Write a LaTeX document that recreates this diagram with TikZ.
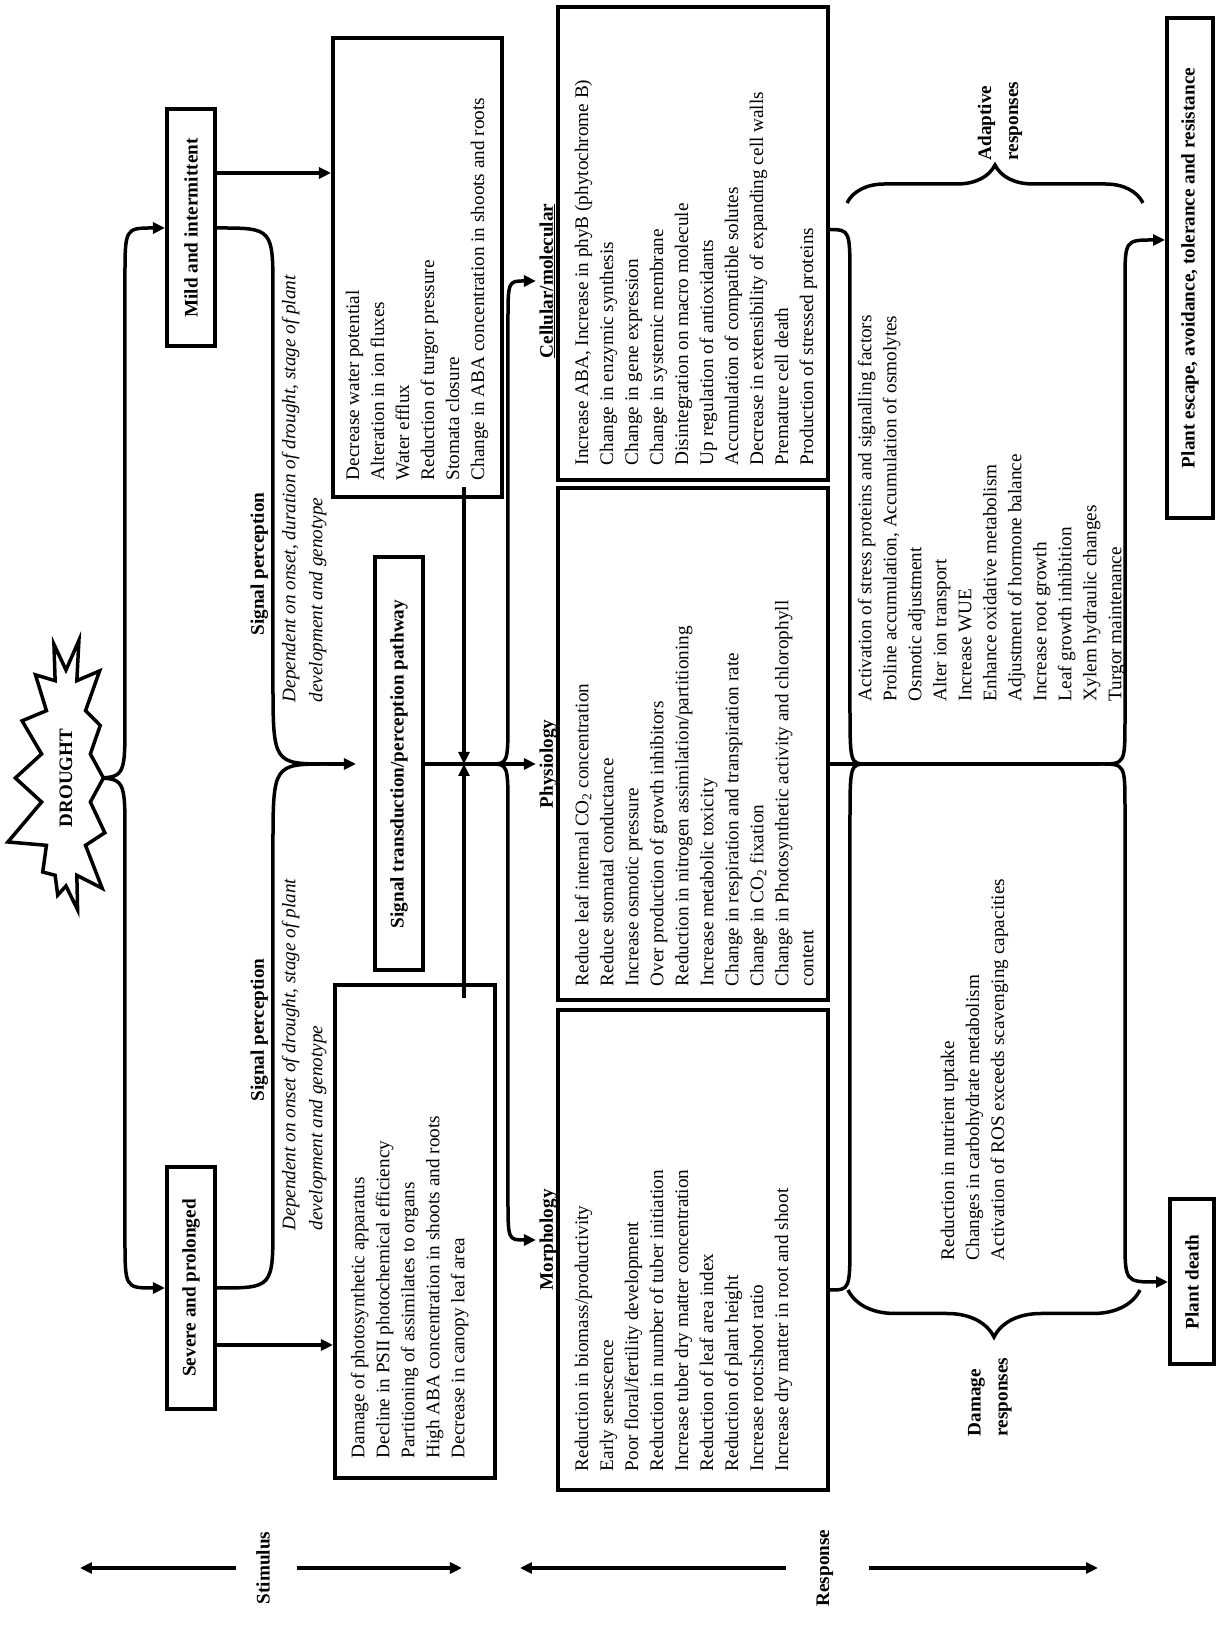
\documentclass[tikz,border=0pt]{standalone}
\usepackage{fontspec}
\setmainfont{Liberation Serif}
\usetikzlibrary{arrows.meta, positioning, shapes.symbols, decorations.pathreplacing}
\tikzset{%
	box/.style={
		draw,
		rectangle,
		line width=4pt,
		inner sep=0pt
	},
	title/.style={
		box,
		font=\bfseries\fontsize{19.2}{25}\selectfont
	},
	items/.style={
		align=left,
		anchor=north west,
		inner sep=0pt
	},
	heading/.style={
		anchor=base,
		inner sep=2pt,
		font=\bfseries\fontsize{19.2}{25}\selectfont
	},
	note/.style={
		align=left,
		anchor=north west,
		inner sep=0pt,
		font=\itshape\fontsize{19.2}{27}\selectfont
	},
	tag/.style={
		align=left,
		inner sep=0pt,
		font=\bfseries\fontsize{19.2}{27}\selectfont
	},
	curly/.style={
		decorate,
		decoration={brace, amplitude=#1}
	},
}

\begin{document}
\begin{tikzpicture}[
	x=1pt, y=1pt,
	line width=3.5pt,
	>={Triangle[length=12pt, width=11pt]},
	every node/.style={font=\fontsize{19.2}{25}\selectfont}
	]
\begin{scope}[rotate=90, transform shape]
\useasboundingbox (0,0) rectangle (1648,1216);

% stimulus / response axis
\node[tag] (stimlbl) at (80,953) {Stimulus};
\node[tag] (resplbl) at (80,391) {Response};
\coordinate (stimtop) at (80,1136);
\coordinate (stimbot) at (80,754);
\coordinate (resptop) at (80,696);
\coordinate (respbot) at (80,118);
\draw[->, shorten <=18pt] (stimlbl.north) -- (stimtop);
\draw[->, shorten <=25pt] (stimlbl.south) -- (stimbot);
\draw[->, shorten <=29pt] (resplbl.north) -- (resptop);
\draw[->, shorten <=34pt] (resplbl.south) -- (respbot);

% drought and its two kinds
\coordinate (dtip) at (870,1126);
\node[title, minimum width=242pt, minimum height=48pt] (severe) at (360,1025) {Severe and prolonged};
\node[title, minimum width=237pt, minimum height=48pt] (mild) at (1420,1025) {Mild and intermittent};
\draw[->] (dtip) .. controls (870,1091) .. (812,1091) -- (410,1091) .. controls (360,1091) .. (severe.north);
\draw[->] (dtip) .. controls (870,1091) .. (928,1091) -- (1370,1091) .. controls (1420,1091) .. (mild.north);
\node[starburst, draw, fill=white, line width=3.5pt, starburst points=14,
	starburst point height=42pt, random starburst=5, minimum width=300pt,
	minimum height=134pt, inner sep=0pt,
	font=\bfseries\fontsize{19}{22}\selectfont] (drought) at (870,1150) {DROUGHT};

% first effects
\node[box, minimum width=493pt, minimum height=160pt] (severefx) at (416.5,801) {};
\node[items] (severelist) at (188,867) {Damage of photosynthetic apparatus\\
	Decline in PSII photochemical efficiency\\
	Partitioning of assimilates to organs\\
	High ABA concentration in shoots and roots\\
	Decrease in canopy leaf area};
\node[box, minimum width=459pt, minimum height=169pt] (mildfx) at (1380.5,798.5) {};
\node[items] (mildlist) at (1166,872) {Decrease water potential\\
	Alteration in ion fluxes\\
	Water efflux\\
	Reduction of turgor pressure\\
	Stomata closure\\
	Change in ABA concentration in shoots and roots};
\draw[->] ([xshift=-57pt]severe.south) -- ([xshift=-57pt]severe.south |- severefx.north);
\draw[->] ([xshift=55pt]mild.south) -- ([xshift=55pt]mild.south |- mildfx.north);

% signal perception
\node[title, minimum width=413pt, minimum height=48pt] (sigbox) at (884,817) {Signal transduction/perception pathway};
\coordinate (sigjoin) at (884,888);
\draw (severe.south) .. controls (360,943) .. (425,943) -- (800,943) .. controls (884,943) .. (sigjoin);
\draw (mild.south) .. controls (1420,943) .. (1355,943) -- (968,943) .. controls (884,943) .. (sigjoin);
\draw[->, shorten >=17pt] (sigjoin) -- (sigbox.north);
\node[heading] (sigpl) at (618,952) {Signal perception};
\node[heading] (sigpr) at (1084,952) {Signal perception};
\node[note] (depl) at (416,936) {Dependent on onset of drought, stage of plant\\development and genotype};
\node[note] (depr) at (944,936) {Dependent on onset, duration of drought, stage of plant\\development and genotype};
\coordinate (sevstub) at ([shift={(-15pt,33pt)}]severefx.south east);
\coordinate (mildstub) at ([shift={(12pt,40pt)}]mildfx.south west);
\draw[->] (sevstub) -- (sevstub -| sigbox.south);
\draw[->] (mildstub) -- (mildstub -| sigbox.south);

% responses
\node[heading] (morphhead) at (408,663) {\underline{Morphology}};
\node[heading] (physhead) at (884,663) {\underline{Physiology}};
\node[heading] (cellhead) at (1367,663) {\underline{Cellular/molecular}};
\coordinate (sigsplit) at (884,726);
\draw[->] (sigbox.south) -- (physhead.north);
\draw[->] (sigsplit) .. controls (884,708) .. (837,708) -- (450,708) .. controls (408,708) .. (morphhead.north);
\draw[->] (sigsplit) .. controls (884,708) .. (931,708) -- (1325,708) .. controls (1367,708) .. (cellhead.north);
\node[box, minimum width=480pt, minimum height=270pt] (morphbox) at (398,523) {};
\node[box, minimum width=512pt, minimum height=270pt] (physbox) at (904,523) {};
\node[box, minimum width=473pt, minimum height=270pt] (cellbox) at (1404.5,523) {};
\node[items] (morphlist) at (175,643) {Reduction in biomass/productivity\\
	Early senescence\\
	Poor floral/fertility development\\
	Reduction in number of tuber initiation\\
	Increase tuber dry matter concentration\\
	Reduction of leaf area index\\
	Reduction of plant height\\
	Increase root:shoot ratio\\
	Increase dry matter in root and shoot};
\node[items] (physlist) at (660,643) {Reduce leaf internal CO\textsubscript{2} concentration\\
	Reduce stomatal conductance\\
	Increase osmotic pressure\\
	Over production of growth inhibitors\\
	Reduction in nitrogen assimilation/partitioning\\
	Increase metabolic toxicity\\
	Change in respiration and transpiration rate\\
	Change in CO\textsubscript{2} fixation\\
	Change in Photosynthetic activity and chlorophyll\\
	content};
\node[items] (celllist) at (1181,643) {Increase ABA, Increase in phyB (phytochrome B)\\
	Change in enzymic synthesis\\
	Change in gene expression\\
	Change in systemic membrane\\
	Disintegration on macro molecule\\
	Up regulation of antioxidants\\
	Accumulation of compatible solutes\\
	Decrease in extensibility of expanding cell walls\\
	Premature cell death\\
	Production of stressed proteins};

% outcomes
\node[title, minimum width=165pt, minimum height=44pt] (death) at (366,24) {Plant death};
\node[title, minimum width=500pt, minimum height=46pt] (escape) at (1380,26) {Plant escape, avoidance, tolerance and resistance};
\coordinate (respjoin) at (884,349);
\coordinate (outjoin) at (884,116);
\draw (physbox.south -| outjoin) -- (outjoin);
\draw ([xshift=-40pt]morphbox.south) .. controls (358,366) .. (410,366) -- (824,366) .. controls (884,366) .. (respjoin);
\draw ([xshift=14pt]cellbox.south) .. controls (1418,366) .. (1368,366) -- (944,366) .. controls (884,366) .. (respjoin);
\draw[->] (outjoin) .. controls (884,91) .. (840,91) -- (410,91) .. controls (366,91) .. (death.north);
\draw[->] (outjoin) .. controls (884,91) .. (928,91) -- (1365,91) .. controls (1408,91) .. ([xshift=28pt]escape.north);

% adaptive and damage responses
\draw[curly=38pt] (1445,369) -- (1445,73);
\draw[curly=47pt] (358,76) -- (358,368);
\node[tag, anchor=west] (adaptlbl) at (1486,216) {Adaptive\\responses};
\node[tag, anchor=west] (damagelbl) at (210,226) {Damage\\responses};
\node[items] (adaptlist) at (945,360) {Activation of stress proteins and signalling factors\\
	Proline accumulation, Accumulation of osmolytes\\
	Osmotic adjustment\\
	Alter ion transport\\
	Increase WUE\\
	Enhance oxidative metabolism\\
	Adjustment of hormone balance\\
	Increase root growth\\
	Leaf growth inhibition\\
	Xylem hydraulic changes\\
	Turgor maintenance};
\node[items] (damagelist) at (386,277) {Reduction in nutrient uptake\\
	Changes in carbohydrate metabolism\\
	Activation of ROS exceeds scavenging capacities};
\end{scope}
\end{tikzpicture}
\end{document}
